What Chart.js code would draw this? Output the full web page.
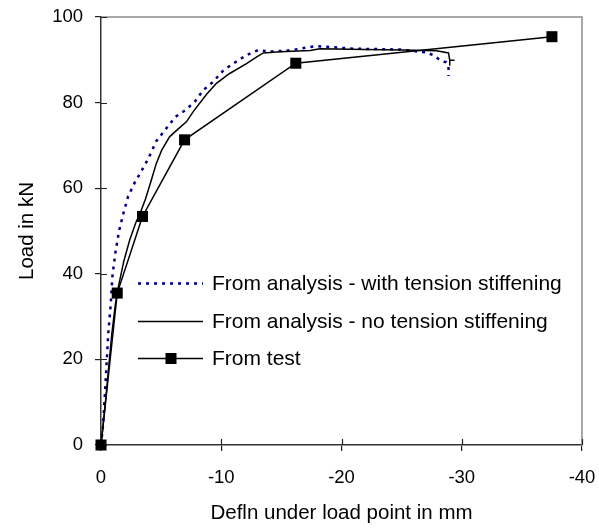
<!DOCTYPE html>
<html><head><meta charset="utf-8">
<script src="https://cdn.jsdelivr.net/npm/chart.js@4.4.1/dist/chart.umd.min.js"></script>
<style>html,body{margin:0;padding:0;background:#fff;overflow:hidden}</style>
</head><body>
<canvas id="c" width="599" height="531"></canvas>
<script>
// ---- data ----
const seriesLabels = [
  'From analysis - with tension stiffening',
  'From analysis - no tension stiffening',
  'From test'
];
const withTsX = [0, -0.15, -0.35, -0.6, -0.8, -0.95, -1.2, -1.5, -1.85, -2.25, -2.8, -3.4, -3.95, -4.6, -5.1, -6.2, -7.0, -7.8, -8.5, -9.3, -10.2, -11.0, -12.1, -13.1, -14.0, -15.7, -17.9, -21.0, -24.9, -27.1, -27.7, -28.2, -28.7, -28.9, -28.9];
const withTsY = [0, 4, 13, 26, 32.5, 39.5, 45, 50, 54, 58, 61.3, 64.2, 67, 71, 72.8, 76.7, 78.2, 80.2, 82.9, 84.8, 87.6, 89.1, 91.1, 92.3, 91.9, 92.2, 93.2, 92.6, 92.4, 91.7, 91.0, 89.9, 89.4, 88.4, 86.2];
const noTsX = [0, -0.3, -0.6, -0.9, -1.2, -1.45, -1.9, -2.4, -2.9, -3.3, -3.7, -4.1, -4.6, -5.05, -5.7, -6.4, -7.1, -7.7, -8.8, -9.6, -10.7, -12.1, -12.95, -13.5, -14.9, -17.4, -18.2, -22.0, -25.1, -27.9, -28.9, -29.0, -29.4, -29.0, -29.0];
const noTsY = [0, 8, 17, 26, 33, 37, 43, 48, 52, 54.5, 57.5, 61.1, 65.8, 68.9, 72, 73.8, 75.5, 78, 82, 84.5, 86.8, 89.1, 90.7, 91.6, 91.9, 92.2, 92.6, 92.4, 92.3, 92.1, 91.6, 89.9, 89.9, 89.9, 88.6];
const testX = [0, -1.35, -3.45, -6.95, -16.2, -37.5];
const testY = [0, 35.5, 53.4, 71.3, 89.2, 95.4];
const xTicks = [0, -10, -20, -30, -40];
const yTicks = [0, 20, 40, 60, 80, 100];
const xTitle = 'Defln under load point in mm';
const yTitle = 'Load in kN';

const FONT = '"Liberation Sans", Arial, sans-serif';
const pts = (xs, ys) => xs.map((x, i) => ({x: x, y: ys[i]}));

// inner tick marks, gray top/right border
const framePlugin = {
  id: 'frame',
  beforeDatasetsDraw(chart) {
    const {ctx, chartArea: a, scales} = chart;
    ctx.save();
    ctx.strokeStyle = '#8c8c8c';
    ctx.lineWidth = 1.5;
    ctx.beginPath();
    ctx.moveTo(a.left, a.top); ctx.lineTo(a.right, a.top); ctx.lineTo(a.right, a.bottom);
    ctx.stroke();
    ctx.strokeStyle = '#222';
    ctx.lineWidth = 1.2;
    ctx.beginPath();
    yTicks.forEach(v => { const y = Math.round(scales.y.getPixelForValue(v)) + 0.5; ctx.moveTo(a.left, y); ctx.lineTo(a.left + 6, y); });
    xTicks.forEach(v => { const x = Math.round(scales.x.getPixelForValue(v)) + 0.5; ctx.moveTo(x, a.bottom); ctx.lineTo(x, a.bottom - 6); });
    ctx.stroke();
    ctx.restore();
  }
};

// legend drawn inside the plot area
const legendPlugin = {
  id: 'inLegend',
  afterDatasetsDraw(chart) {
    const ctx = chart.ctx;
    const rowsY = [283.5, 321.5, 358.5];
    chart.data.datasets.forEach((ds, i) => {
      const y = rowsY[i];
      ctx.save();
      ctx.strokeStyle = ds.borderColor;
      ctx.lineWidth = ds.borderWidth;
      ctx.setLineDash(ds.borderDash || []);
      ctx.beginPath(); ctx.moveTo(138, y); ctx.lineTo(203, y); ctx.stroke();
      ctx.setLineDash([]);
      if (ds.pointRadius > 0) {
        ctx.fillStyle = ds.pointBackgroundColor;
        ctx.fillRect(165.5, y - 5.5, 11, 11);
      }
      ctx.fillStyle = '#000';
      ctx.font = '21px ' + FONT;
      ctx.textBaseline = 'middle';
      ctx.textAlign = 'left';
      ctx.fillText(ds.label, 212, y + 1);
      ctx.restore();
    });
  }
};

new Chart(document.getElementById('c'), {
  type: 'scatter',
  data: {
    datasets: [
      { label: seriesLabels[0], data: pts(withTsX, withTsY), showLine: true,
        borderColor: '#000080', borderWidth: 2.5, borderDash: [3, 5], pointRadius: 0, clip: false, order: 2 },
      { label: seriesLabels[1], data: pts(noTsX, noTsY), showLine: true,
        borderColor: '#000', borderWidth: 1.5, pointRadius: 0, clip: false, order: 1 },
      { label: seriesLabels[2], data: pts(testX, testY), showLine: true,
        borderColor: '#000', borderWidth: 1.5, pointStyle: 'rect', pointRadius: 7.8,
        pointBackgroundColor: '#000', pointBorderColor: '#000', pointBorderWidth: 0, clip: false, order: 0 }
    ]
  },
  options: {
    responsive: false,
    animation: false,
    devicePixelRatio: 1,
    layout: { padding: 0 },
    plugins: { legend: { display: false }, tooltip: { enabled: false } },
    elements: { line: { tension: 0 } },
    scales: {
      x: {
        type: 'linear', reverse: true, min: -40, max: 0,
        afterFit(s) { s.height = 86; s.paddingRight = 17; s.paddingLeft = 0; },
        afterBuildTicks(s) { s.ticks = xTicks.map(v => ({value: v})); },
        grid: { drawOnChartArea: false, drawTicks: true, tickLength: 6, color: '#222', lineWidth: 1.2 },
        border: { display: true, color: '#333', width: 1.5 },
        ticks: { color: '#000', font: { family: FONT, size: 18.5 }, padding: 16, maxRotation: 0 },
        title: { display: true, text: xTitle, color: '#000', font: { family: FONT, size: 20.5 }, padding: { top: 0, bottom: 5 } }
      },
      y: {
        type: 'linear', min: 0, max: 100,
        afterFit(s) { s.width = 101; s.paddingTop = 17; s.paddingBottom = 0; },
        afterBuildTicks(s) { s.ticks = yTicks.map(v => ({value: v})); },
        grid: { drawOnChartArea: false, drawTicks: true, tickLength: 6, color: '#222', lineWidth: 1.2 },
        border: { display: true, color: '#333', width: 1.5 },
        ticks: { color: '#000', font: { family: FONT, size: 18.5 }, padding: 12 },
        title: { display: true, text: yTitle, color: '#000', font: { family: FONT, size: 20.5 }, padding: { top: 15, bottom: 0 } }
      }
    }
  },
  plugins: [framePlugin, legendPlugin]
});
</script>
</body></html>
